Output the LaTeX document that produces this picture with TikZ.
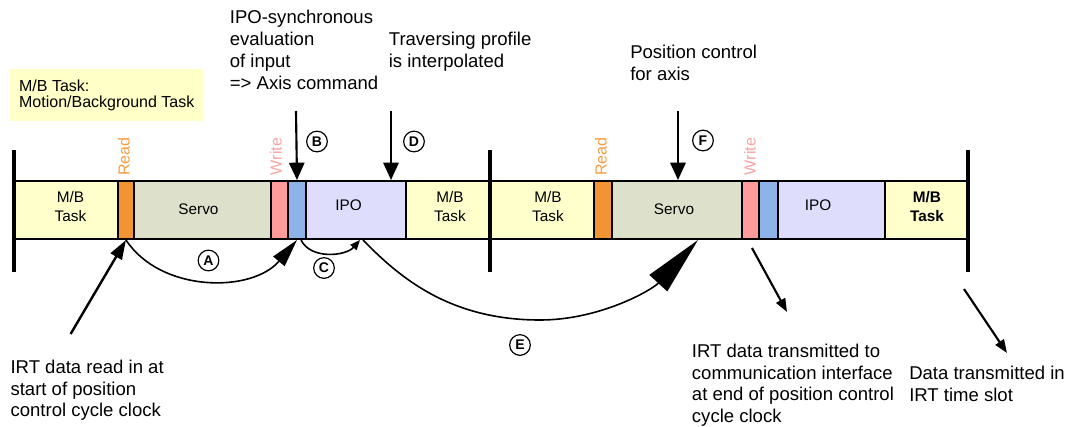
\documentclass[tikz,border=0pt]{standalone}
\usepackage{fontspec}
\setmainfont{Liberation Sans}
\usetikzlibrary{arrows.meta,calc}
\definecolor{mbfill}{HTML}{FFFFCC}
\definecolor{servofill}{HTML}{DDE0CB}
\definecolor{readfill}{HTML}{F39434}
\definecolor{writefill}{HTML}{FF9B9B}
\definecolor{bluefill}{HTML}{8DB3E9}
\definecolor{ipofill}{HTML}{DEDEFC}
\definecolor{legfill}{HTML}{FFFFC8}
\definecolor{readtxt}{HTML}{F59C42}
\definecolor{writetxt}{HTML}{F7A3A3}
\newcommand\segbox[4]{\node[seg,fill=#4,minimum width={(#3-#2)*0.75pt},anchor=north west] (#1) at (#2,180) {};}
\begin{document}
\begin{tikzpicture}[x=0.75pt,y=-0.75pt,
  seg/.style={rectangle,draw=black,line width=1.5pt,minimum height=43.5pt,inner sep=0pt},
  bartext/.style={font=\fontsize{11.5}{14.25}\selectfont,align=center,inner sep=0pt},
  rwlabel/.style={font=\fontsize{12}{13}\selectfont,rotate=90,inner sep=0pt},
  note/.style={font=\fontsize{13.9}{16.4}\selectfont,align=left,anchor=north west,inner sep=0pt},
  legendbox/.style={anchor=north west,fill=legfill,minimum width=144.75pt,minimum height=38.8pt,
     inner xsep=6pt,align=left,font=\fontsize{12}{11.8}\selectfont},
  tick/.style={line width=3pt},
  circ/.style={circle,draw,line width=0.9pt,minimum size=15.5pt,inner sep=0pt,
     font=\fontsize{10.5}{12}\selectfont\bfseries},
  downarr/.style={line width=1.6pt,-{Triangle[length=13pt,width=11.5pt]}},
  thickarr/.style={line width=1.8pt,-{Triangle[length=14.5pt,width=9.5pt]}},
  thinarr/.style={line width=1.6pt,-{Triangle[length=10pt,width=7.5pt]}},
  curvearr/.style={line width=1.2pt}
]
\useasboundingbox (0,0) rectangle (1076,426);

% legend
\node[legendbox] (legend) at (10,69) {M/B Task:\\Motion/Background Task};

% bar segments
\segbox{mbA}{14}{117}{mbfill}
\segbox{rdA}{117}{133}{readfill}
\segbox{svA}{133}{270}{servofill}
\segbox{wrA}{270}{287}{writefill}
\segbox{blA}{287}{305}{bluefill}
\segbox{ipA}{305}{405}{ipofill}
\segbox{mbB}{405}{490}{mbfill}
\segbox{mbC}{490}{593}{mbfill}
\segbox{rdB}{593}{611}{readfill}
\segbox{svB}{611}{741}{servofill}
\segbox{wrB}{741}{758}{writefill}
\segbox{blB}{758}{777}{bluefill}
\segbox{ipB}{777}{884}{ipofill}
\segbox{mbD}{884}{968}{mbfill}

% cycle ticks
\draw[tick] (14,150) -- (14,272);
\draw[tick] (490,150) -- (490,272);
\draw[tick] (968,150) -- (968,272);

% bar texts
\node[bartext] (tmbA) at (70.5,206.5) {M/B\\Task};
\node[bartext] (tsvA) at (198.5,209) {Servo};
\node[bartext] (tipA) at (348.5,205) {IPO};
\node[bartext] (tmbB) at (450,206.5) {M/B\\Task};
\node[bartext] (tmbC) at (548,206.5) {M/B\\Task};
\node[bartext] (tsvB) at (674,209) {Servo};
\node[bartext] (tipB) at (818,205) {IPO};
\node[bartext,font=\fontsize{11.5}{14.25}\selectfont\bfseries] (tmbD) at (927,206.5) {M/B\\Task};

% read / write labels
\node[rwlabel,text=readtxt] (lrdA) at (124,156.5) {Read};
\node[rwlabel,text=writetxt] (lwrA) at (276,156.5) {Write};
\node[rwlabel,text=readtxt] (lrdB) at (601,156.5) {Read};
\node[rwlabel,text=writetxt] (lwrB) at (750,156.5) {Write};

% top arrows
\coordinate (Bs) at (296,111);
\coordinate (Ds) at (391,111);
\coordinate (Fs) at (678,111);
\draw[downarr] (Bs) -- (blA.north);
\draw[downarr] (Ds) -- (Ds |- ipA.north);
\draw[downarr] (Fs) -- (Fs |- svB.north);

% circled letters
\node[circ] (cB) at (317,141.5) {B};
\node[circ] (cD) at (414,141.5) {D};
\node[circ] (cF) at (703,140.5) {F};
\node[circ] (cA) at (208.5,260.5) {A};
\node[circ] (cC) at (324,268) {C};
\node[circ] (cE) at (520,345) {E};

% curves
\draw[curvearr,-{Triangle[length=21pt,width=11pt]}] (rdA.south) .. controls +(35,53) and +(-45,53) .. (blA.south);
\draw[curvearr,-{Triangle[length=7.5pt,width=6pt]}] ($(blA.south)+(4,0)$) .. controls +(10,20) and +(-14,16) .. ($(ipA.south)+(4,0)$);
\coordinate (Emid) at (540,320);
\draw[curvearr,-{Triangle[length=44pt,width=18pt]}] ($(ipA.south)+(7,0)$) .. controls (400,278) and (450,320) .. (Emid) .. controls (600,320) and (652,290) .. ($(svB.south)+(21,0)$);

% bottom straight arrows
\coordinate (Rs) at (70.6,334);
\draw[thickarr] (Rs) -- (rdA.south);
\coordinate (Ws) at (752,248);
\coordinate (We) at (787,312);
\draw[thinarr] (Ws) -- (We);
\coordinate (Ts) at (964,289);
\coordinate (Te) at (1007,353);
\draw[thinarr] (Ts) -- (Te);

% notes
\node[note] (nIPO) at (229.6,10) {IPO-synchronous\\evaluation\\of input\\=> Axis command};
\node[note] (nTrav) at (388.6,32) {Traversing profile\\is interpolated};
\node[note] (nPos) at (630,44.5) {Position control\\for axis};
\node[note] (nRead) at (10.3,359.5) {IRT data read in at\\start of position\\control cycle clock};
\node[note] (nTx) at (691.7,343.5) {IRT data transmitted to\\communication interface\\at end of position control\\cycle clock};
\node[note] (nData) at (909,365.5) {Data transmitted in\\IRT time slot};
\end{tikzpicture}
\end{document}
